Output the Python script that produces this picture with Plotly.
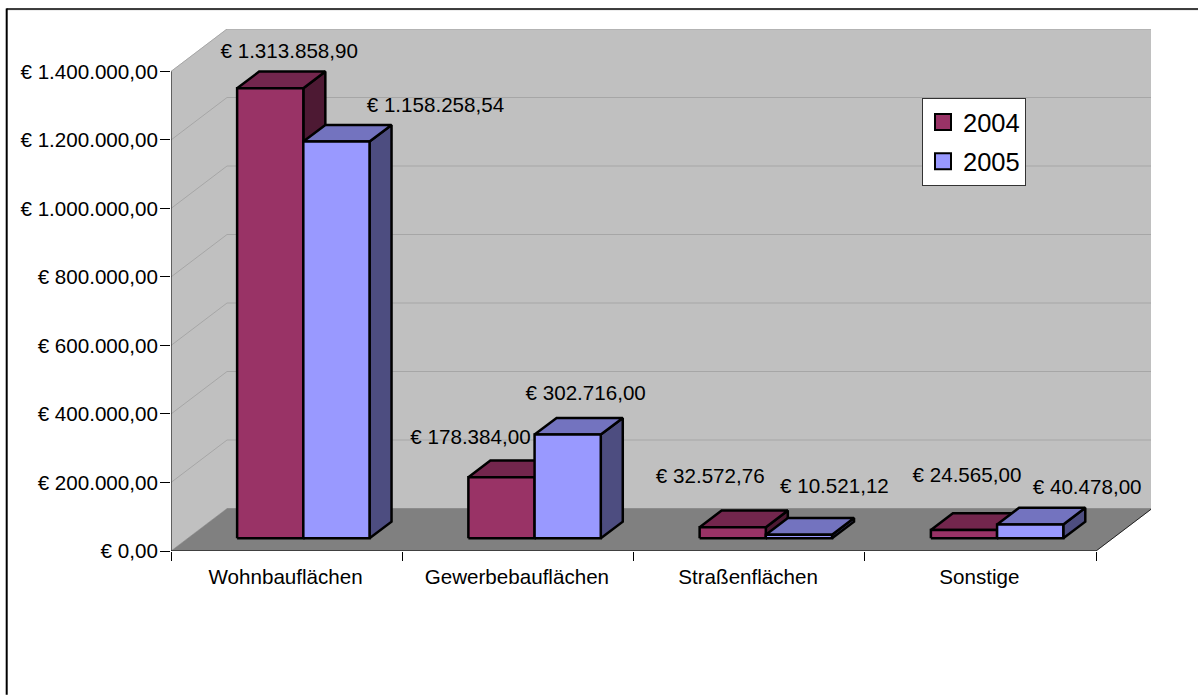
import plotly.graph_objects as go

categories = ["Wohnbauflächen", "Gewerbebauflächen", "Straßenflächen", "Sonstige"]
years = ["2004", "2005"]
values_2004 = [1313858.90, 178384.00, 32572.76, 24565.00]
values_2005 = [1158258.54, 302716.00, 10521.12, 40478.00]
y_ticks = [0, 200000, 400000, 600000, 800000, 1000000, 1200000, 1400000]

# ---- pixel geometry of the oblique projection (converted to axis units below)
L, R, T, B = 171.0, 1151.0, 28.5, 551.0
PX_X = 231.25          # px per category
PX_Y = 480 / 1400000   # px per euro
DX_WALL, DY_WALL = 56.0 / PX_X, 42.5 / PX_Y
DX_BAR, DY_BAR = 22.0 / PX_X, 16.7 / PX_Y
OX, OY = 16.7 / PX_X, 12.7 / PX_Y   # bar front plane offset from the axis plane
BAR_W = 66.2 / PX_X
X_MAX = (R - L) / PX_X
Y_MAX = (B - T) / PX_Y

COL = {
    "2004": dict(front="#993366", top="#73264D", side="#4D1933"),
    "2005": dict(front="#9999FF", top="#7373BF", side="#4D4D80"),
}
# label offsets from the top-front centre of each bar (px), hand-placed in the source
LABEL_OFF = {
    "2004": [(19, 35), (-31, 38), (-22.5, 49), (3, 53)],
    "2005": [(99, 35), (18, 40), (35.5, 47), (57, 35.5)],
}


def euro(v):
    s = f"{v:,.2f}".replace(",", "#").replace(".", ",").replace("#", ".")
    return "€ " + s


def poly(xs, ys, fill, line="black", width=2.5):
    return go.Scatter(x=xs + xs[:1], y=ys + ys[:1], mode="lines", fill="toself", fillcolor=fill,
                      line=dict(color=line, width=width), hoverinfo="skip", showlegend=False,
                      cliponaxis=False)


def seg(xs, ys, color, width=1):
    return go.Scatter(x=xs, y=ys, mode="lines", line=dict(color=color, width=width),
                      hoverinfo="skip", showlegend=False, cliponaxis=False)


fig = go.Figure()
n = len(categories)
WALL = "#C0C0C0"
GRID = "#A6A6A6"
top_v = y_ticks[-1]
FONT = "Liberation Sans, Arial, sans-serif"
FS = 20.6

# side wall, back wall, floor
fig.add_trace(poly([0, DX_WALL, DX_WALL, 0], [0, DY_WALL, top_v + DY_WALL, top_v], WALL, WALL, 0.5))
fig.add_trace(poly([DX_WALL, n + DX_WALL, n + DX_WALL, DX_WALL],
                   [DY_WALL, DY_WALL, top_v + DY_WALL, top_v + DY_WALL], WALL, WALL, 0.5))
fig.add_trace(poly([0, n, n + DX_WALL, DX_WALL], [0, 0, DY_WALL, DY_WALL], "#808080", "#808080", 0.5))
# gridlines on both walls
for t in y_ticks[1:]:
    fig.add_trace(seg([0, DX_WALL, n + DX_WALL], [t, t + DY_WALL, t + DY_WALL], GRID, 1))
fig.add_trace(seg([DX_WALL, n + DX_WALL], [DY_WALL, DY_WALL], "#8C8C8C", 1))
fig.add_trace(seg([n, n + DX_WALL], [0, DY_WALL], "#202020", 1))

# axis lines
fig.add_trace(seg([0, 0], [0, top_v], "black", 1))
fig.add_trace(seg([0, n], [0, 0], "black", 1))

# 3D bars
lx, ly, lt = [], [], []
for i in range(n):
    c = i + 0.5 + OX
    for j, (yr, vals) in enumerate(zip(years, [values_2004, values_2005])):
        v = vals[i]
        x0 = c - BAR_W + j * BAR_W
        x1 = x0 + BAR_W
        y0, y1 = OY, OY + v
        col = COL[yr]
        fig.add_trace(poly([x1, x1 + DX_BAR, x1 + DX_BAR, x1],
                           [y0, y0 + DY_BAR, y1 + DY_BAR, y1], col["side"]))
        fig.add_trace(poly([x0, x1, x1 + DX_BAR, x0 + DX_BAR],
                           [y1, y1, y1 + DY_BAR, y1 + DY_BAR], col["top"]))
        fig.add_trace(poly([x0, x1, x1, x0], [y0, y0, y1, y1], col["front"]))
        ox, oy = LABEL_OFF[yr][i]
        lx.append((x0 + x1) / 2 + ox / PX_X)
        ly.append(y1 + oy / PX_Y)
        lt.append(euro(v))

fig.add_trace(go.Scatter(x=lx, y=ly, text=lt, mode="text", textposition="middle center",
                         textfont=dict(family=FONT, size=FS, color="black"),
                         hoverinfo="skip", showlegend=False, cliponaxis=False))

# legend entries
for yr in years:
    fig.add_trace(go.Scatter(x=[None], y=[None], mode="markers", name=yr, legendgroup=yr,
                             marker=dict(symbol="square", size=16, color=COL[yr]["front"],
                                         line=dict(color="black", width=2))))


def pxx(p):
    return (p - L) / (R - L)


def pxy(p):
    return (B - p) / (B - T)


fig.update_layout(
    width=1198, height=695, autosize=False,
    margin=dict(l=L, r=1198 - R, t=T, b=695 - B, pad=0),
    paper_bgcolor="white", plot_bgcolor="white",
    font=dict(family=FONT, size=FS, color="black"),
    xaxis=dict(range=[0, X_MAX], tickmode="array", tickvals=[i + 0.5 for i in range(n)], ticktext=categories,
               ticks="outside", ticklen=7, tickcolor="rgba(0,0,0,0)", showgrid=False, zeroline=False,
               showline=False, tickfont=dict(size=FS), ticklabelshift=-1,
               minor=dict(tickmode="array", tickvals=list(range(n + 1)), ticks="outside", ticklen=9,
                          tickcolor="black", tickwidth=1, showgrid=False)),
    yaxis=dict(range=[0, Y_MAX], tickmode="array", tickvals=y_ticks, ticktext=[euro(t) for t in y_ticks],
               ticks="outside", ticklen=10, tickcolor="black", tickwidth=1, showgrid=False, zeroline=False,
               showline=False, tickfont=dict(size=FS), ticklabelstandoff=-2),
    legend=dict(x=pxx(922), y=pxy(97.5), xanchor="left", yanchor="top", bgcolor="white",
                bordercolor="#333333", borderwidth=1, font=dict(size=25.5), tracegroupgap=3,
                entrywidth=66, entrywidthmode="pixels",
                itemclick=False, itemdoubleclick=False),
    shapes=[
        dict(type="line", xref="paper", yref="paper", x0=pxx(7), x1=pxx(1198), y0=pxy(9.5), y1=pxy(9.5),
             line=dict(color="#DDDDDD", width=1)),
        dict(type="line", xref="paper", yref="paper", x0=pxx(6.5), x1=pxx(1198), y0=pxy(8.6), y1=pxy(8.6),
             line=dict(color="black", width=1.5)),
        dict(type="line", xref="paper", yref="paper", x0=pxx(6.7), x1=pxx(6.7), y0=pxy(8), y1=pxy(695),
             line=dict(color="black", width=2)),
    ],
)

fig.write_html("out.html", config=dict(displayModeBar=False),
               post_script="document.body.style.margin='0';document.body.style.overflow='hidden';")
